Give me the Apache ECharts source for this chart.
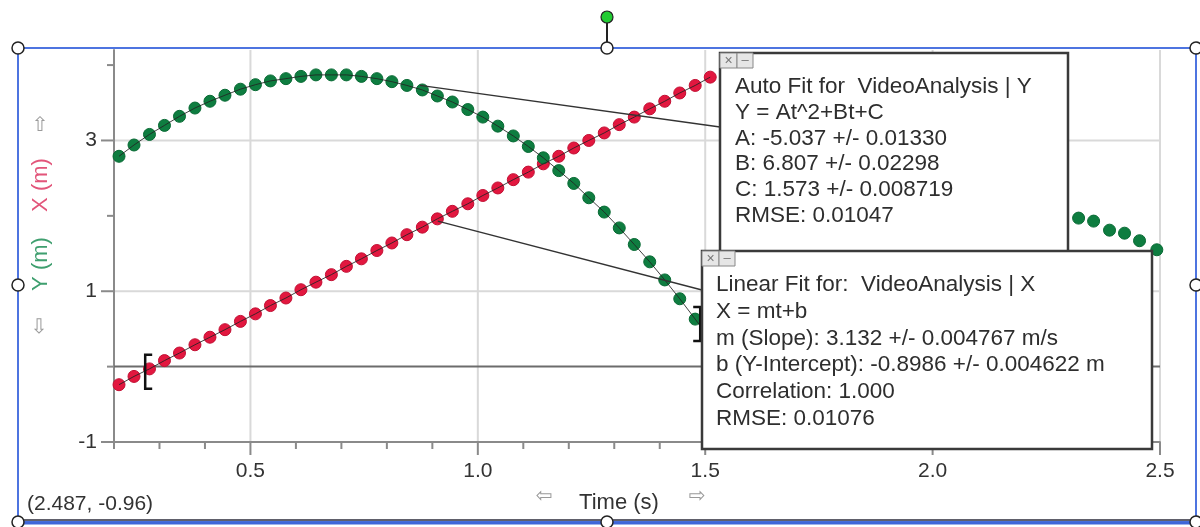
<!DOCTYPE html>
<html><head><meta charset="utf-8">
<script src="https://cdn.jsdelivr.net/npm/echarts@6.0.0/dist/echarts.min.js"></script>
<style>html,body{margin:0;padding:0;background:#fff}#c{width:1200px;height:527px}</style>
</head><body><div id="c"></div><script>
// ---- data ----
const time = [0.211, 0.244, 0.278, 0.311, 0.344, 0.378, 0.411, 0.444, 0.478, 0.511,
  0.544, 0.578, 0.611, 0.644, 0.678, 0.711, 0.744, 0.778, 0.811, 0.844,
  0.878, 0.911, 0.944, 0.978, 1.011, 1.044, 1.078, 1.111, 1.144, 1.178,
  1.211, 1.244, 1.278, 1.311, 1.344, 1.378, 1.411, 1.444, 1.478, 1.511];
const xPosition = [-0.24, -0.13, -0.03, 0.08, 0.18, 0.29, 0.39, 0.49, 0.60, 0.70,
  0.81, 0.91, 1.02, 1.12, 1.22, 1.33, 1.43, 1.54, 1.64, 1.75,
  1.85, 1.96, 2.06, 2.16, 2.27, 2.37, 2.48, 2.58, 2.69, 2.79,
  2.90, 3.00, 3.10, 3.21, 3.31, 3.42, 3.52, 3.63, 3.73, 3.84];
const yPosition = [2.79, 2.94, 3.08, 3.20, 3.32, 3.43, 3.52, 3.60, 3.68, 3.74,
  3.79, 3.82, 3.85, 3.87, 3.87, 3.87, 3.85, 3.82, 3.78, 3.73,
  3.67, 3.59, 3.51, 3.41, 3.31, 3.19, 3.06, 2.92, 2.77, 2.60,
  2.43, 2.24, 2.05, 1.84, 1.62, 1.39, 1.15, 0.90, 0.63, 0.36];
const lateTime = [2.321, 2.354, 2.389, 2.422, 2.455, 2.493];
const lateY = [1.97, 1.93, 1.81, 1.77, 1.67, 1.55];

const xMajorTicks = [0.5, 1.0, 1.5, 2.0, 2.5];
const xMinorTicks = [0.2, 0.3, 0.4, 0.6, 0.7, 0.8, 0.9, 1.1, 1.2, 1.3, 1.4, 1.6, 1.7, 1.8, 1.9, 2.1, 2.2, 2.3, 2.4];
const yMajorTicks = [-1, 1, 3];
const yMinorTicks = [0, 2, 4];
const xGridLines = [0.5, 1.0, 1.5, 2.0, 2.5];
const yGridLines = [1, 3];
const zeroLine = [0];

const bracketTime = [0.273, 1.478];
const bracketValue = [-0.04, 0.63];
const connectorAnchors = [[0.873, 3.73], [0.912, 1.93]];

const autoLines = ['Auto Fit for  VideoAnalysis | Y', 'Y = At^2+Bt+C', 'A: -5.037 +/- 0.01330',
  'B: 6.807 +/- 0.02298', 'C: 1.573 +/- 0.008719', 'RMSE: 0.01047'];
const linearLines = ['Linear Fit for:  VideoAnalysis | X', 'X = mt+b', 'm (Slope): 3.132 +/- 0.004767 m/s',
  'b (Y-Intercept): -0.8986 +/- 0.004622 m', 'Correlation: 1.000', 'RMSE: 0.01076'];

const X_MIN = 0.2, X_MAX = 2.5, Y_MIN = -1, Y_MAX = 4.2;

// ---- styling / layout ----
const FONT = '"Liberation Sans", Arial, sans-serif';
const RED = '#e2173f', GREEN = '#0e7d40';
const AXIS = '#8a8a8a', GRID = '#d9d9d9';

const xyX = time.map((t, i) => [t, xPosition[i]]);
const xyY = time.map((t, i) => [t, yPosition[i]]);
const xyLate = lateTime.map((t, i) => [t, lateY[i]]);

function renderBelow(params, api) {
  const tl = api.coord([X_MIN, Y_MAX]);
  const br = api.coord([X_MAX, Y_MIN]);
  const ch = [];
  xGridLines.forEach(v => { const p = api.coord([v, Y_MIN]);
    ch.push({type: 'line', shape: {x1: p[0], y1: tl[1], x2: p[0], y2: br[1] - 1}, style: {stroke: GRID, lineWidth: 2}}); });
  yGridLines.forEach(v => { const p = api.coord([X_MIN, v]);
    ch.push({type: 'line', shape: {x1: tl[0] + 1, y1: p[1], x2: br[0], y2: p[1]}, style: {stroke: GRID, lineWidth: 2}}); });
  zeroLine.forEach(v => { const p = api.coord([X_MIN, v]);
    ch.push({type: 'line', shape: {x1: tl[0], y1: p[1], x2: br[0], y2: p[1]}, style: {stroke: '#6c6c6c', lineWidth: 2}}); });
  xMinorTicks.forEach(v => { const p = api.coord([v, Y_MIN]);
    ch.push({type: 'line', shape: {x1: p[0], y1: br[1], x2: p[0], y2: br[1] + 7}, style: {stroke: AXIS, lineWidth: 2}}); });
  xMajorTicks.forEach(v => { const p = api.coord([v, Y_MIN]);
    ch.push({type: 'line', shape: {x1: p[0], y1: br[1], x2: p[0], y2: br[1] + 13}, style: {stroke: AXIS, lineWidth: 2}}); });
  yMinorTicks.forEach(v => { const p = api.coord([X_MIN, v]);
    ch.push({type: 'line', shape: {x1: tl[0] - 7, y1: p[1], x2: tl[0], y2: p[1]}, style: {stroke: AXIS, lineWidth: 2}}); });
  yMajorTicks.forEach(v => { const p = api.coord([X_MIN, v]);
    ch.push({type: 'line', shape: {x1: tl[0] - 13, y1: p[1], x2: tl[0], y2: p[1]}, style: {stroke: AXIS, lineWidth: 2}}); });
  return {type: 'group', children: ch};
}

const boxEdges = [[720, 127], [702, 290]];
function renderAbove(params, api) {
  const ch = [];
  connectorAnchors.forEach((a, i) => { const p = api.coord(a);
    ch.push({type: 'line', shape: {x1: p[0], y1: p[1], x2: boxEdges[i][0], y2: boxEdges[i][1]}, style: {stroke: '#333', lineWidth: 1.3}}); });
  // fit range brackets
  let p = api.coord([bracketTime[0], bracketValue[0]]);
  ch.push({type: 'polyline', shape: {points: [[p[0] + 5, p[1] - 15], [p[0] - 2, p[1] - 15], [p[0] - 2, p[1] + 19], [p[0] + 5, p[1] + 19]]},
    style: {stroke: '#111', lineWidth: 2.5, fill: null}});
  p = api.coord([bracketTime[1], bracketValue[1]]);
  ch.push({type: 'polyline', shape: {points: [[p[0] - 2, p[1] - 12], [p[0] + 5, p[1] - 12], [p[0] + 5, p[1] + 22], [p[0] - 2, p[1] + 22]]},
    style: {stroke: '#111', lineWidth: 2.5, fill: null}});
  return {type: 'group', children: ch};
}

function textEl(txt, x, y, size, color, align, extra) {
  return Object.assign({type: 'text', z: 100, silent: true,
    style: {text: txt, x: x, y: y, fill: color, font: size + 'px ' + FONT, textAlign: align || 'left', textVerticalAlign: 'middle'}}, extra || {});
}
function arrowEl(ch, x, y) {
  return {type: 'text', z: 100, silent: true,
    style: {text: ch, x: x, y: y, fill: '#9a9a9a', font: '20px "DejaVu Sans"', textAlign: 'center', textVerticalAlign: 'middle'}};
}
function fitBox(left, top, w, h, lines, textX, firstY, step) {
  const els = [{type: 'rect', z: 99, silent: true, shape: {x: left, y: top, width: w, height: h},
    style: {fill: '#fff', stroke: '#3a3a3a', lineWidth: 2.5}}];
  els.push({type: 'rect', z: 101, shape: {x: left, y: top, width: 17, height: 15}, style: {fill: '#e6e6e6', stroke: '#888', lineWidth: 1}});
  els.push({type: 'rect', z: 101, shape: {x: left + 17, y: top, width: 16, height: 15}, style: {fill: '#e6e6e6', stroke: '#888', lineWidth: 1}});
  els.push(textEl('×', left + 8.5, top + 8, 14, '#777', 'center', {z: 102}));
  els.push(textEl('–', left + 25, top + 7, 13, '#777', 'center', {z: 102}));
  lines.forEach((l, i) => els.push(textEl(l, textX, firstY + i * step, 22.5, '#2e2e2e', 'left')));
  return els;
}

const handles = [[18, 48], [607, 48], [1196, 48], [18, 285], [1196, 285], [18, 522], [607, 522], [1196, 522]];
const graphics = [];
graphics.push({type: 'rect', z: 90, silent: true, shape: {x: 18, y: 48, width: 1178, height: 474}, style: {fill: null, stroke: '#4d74e0', lineWidth: 2}});
graphics.push({type: 'line', z: 90, silent: true, shape: {x1: 18, y1: 520, x2: 1196, y2: 520}, style: {stroke: '#2b2b3a', lineWidth: 1.5}});
graphics.push({type: 'line', z: 90, silent: true, shape: {x1: 18, y1: 523, x2: 1196, y2: 523}, style: {stroke: '#3f66d8', lineWidth: 3}});
graphics.push({type: 'line', z: 90, silent: true, shape: {x1: 607, y1: 22, x2: 607, y2: 43}, style: {stroke: '#222', lineWidth: 2}});
graphics.push({type: 'circle', z: 110, shape: {cx: 607, cy: 17, r: 6}, style: {fill: '#22cc33', stroke: '#222', lineWidth: 1.2}});
handles.forEach(h => graphics.push({type: 'circle', z: 110, shape: {cx: h[0], cy: h[1], r: 6}, style: {fill: '#fff', stroke: '#222', lineWidth: 1.5}}));
graphics.push(...fitBox(720, 53, 348, 199, autoLines, 735, 87, 25.7));
graphics.push(...fitBox(702, 251, 450, 198, linearLines, 716, 285, 26.7));
// axis titles
graphics.push(arrowEl('⇧', 40, 126));
graphics.push(arrowEl('⇩', 39, 328));
graphics.push({type: 'text', z: 100, x: 41, y: 185, rotation: Math.PI / 2,
  style: {text: 'X (m)', x: 0, y: 0, fill: '#e2557a', font: '22px ' + FONT, textAlign: 'center', textVerticalAlign: 'middle'}});
graphics.push({type: 'text', z: 100, x: 41, y: 264, rotation: Math.PI / 2,
  style: {text: 'Y (m)', x: 0, y: 0, fill: '#3f9f6f', font: '22px ' + FONT, textAlign: 'center', textVerticalAlign: 'middle'}});
graphics.push(textEl('Time (s)', 619, 503, 22, '#333', 'center'));
graphics.push(arrowEl('⇦', 544, 497));
graphics.push(arrowEl('⇨', 697, 497));
graphics.push(textEl('(2.487, -0.96)', 27, 504, 21, '#333', 'left'));

const chart = echarts.init(document.getElementById('c'), null, {renderer: 'canvas'});
chart.setOption({
  animation: false,
  backgroundColor: '#fff',
  grid: {left: 114, right: 40, top: 50, bottom: 85, containLabel: false},
  xAxis: {type: 'value', min: X_MIN, max: X_MAX, interval: 0.1,
    axisLine: {show: true, onZero: false, lineStyle: {color: AXIS, width: 2}},
    axisTick: {show: false}, splitLine: {show: false},
    axisLabel: {margin: 19, fontSize: 21, color: '#333', fontFamily: FONT,
      formatter: v => { const r = Math.round(v * 10); return r % 5 === 0 ? (r / 10).toFixed(1) : ''; }}},
  yAxis: {type: 'value', min: Y_MIN, max: Y_MAX, interval: 1,
    axisLine: {show: true, onZero: false, lineStyle: {color: AXIS, width: 2}},
    axisTick: {show: false}, splitLine: {show: false},
    axisLabel: {margin: 17, fontSize: 21, color: '#333', fontFamily: FONT,
      formatter: v => (Math.abs(v - Math.round(v)) < 1e-6 && Math.abs(Math.round(v)) % 2 === 1) ? String(Math.round(v)) : ''}},
  graphic: {elements: graphics},
  series: [
    {type: 'custom', name: 'decor', z: 1, silent: true, clip: false, renderItem: renderBelow, data: [[X_MIN, Y_MIN]]},
    {type: 'scatter', name: 'X', z: 3, data: xyX, symbol: 'circle', symbolSize: 12,
      itemStyle: {color: RED, borderColor: '#c20f33', borderWidth: 1, opacity: 1}},
    {type: 'scatter', name: 'Y', z: 3, data: xyY, symbol: 'circle', symbolSize: 12,
      itemStyle: {color: GREEN, borderColor: '#086a34', borderWidth: 1, opacity: 1}},
    {type: 'scatter', name: 'Y late', z: 3, data: xyLate, symbol: 'circle', symbolSize: 12,
      itemStyle: {color: GREEN, borderColor: '#086a34', borderWidth: 1, opacity: 1}},
    {type: 'line', name: 'X fit', z: 4, data: xyX, showSymbol: false, silent: true,
      lineStyle: {color: '#222', width: 1, opacity: 0.85}},
    {type: 'line', name: 'Y fit', z: 4, data: xyY, showSymbol: false, silent: true,
      lineStyle: {color: '#222', width: 1, opacity: 0.85}},
    {type: 'custom', name: 'annot', z: 5, silent: true, clip: false, renderItem: renderAbove, data: [[X_MIN, Y_MIN]]}
  ]
});
</script></body></html>
